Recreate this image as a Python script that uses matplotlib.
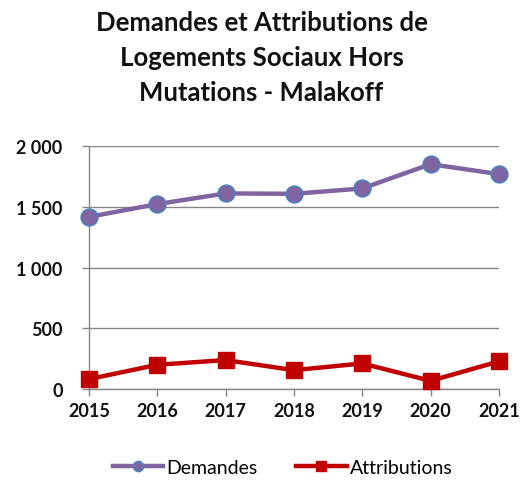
import matplotlib
matplotlib.use('Agg')
import matplotlib.pyplot as plt
from matplotlib.ticker import FuncFormatter

years = ['2015', '2016', '2017', '2018', '2019', '2020', '2021']
demandes = [1418, 1523, 1611, 1608, 1652, 1852, 1770]
attributions = [82, 200, 239, 156, 211, 68, 228]

plt.rcParams['font.family'] = ['Lato', 'DejaVu Sans']

fig = plt.figure(figsize=(5.23, 4.81), dpi=100)
ax = fig.add_axes([0.170, 0.189, 0.784, 0.505])

x = list(range(len(years)))
ax.plot(x, demandes, color='#8064A2', lw=3.2, marker='o', ms=12,
        mfc='#8064A2', mec='#4F81BD', mew=1.2, label='Demandes', zorder=3,
        clip_on=False)
ax.plot(x, attributions, color='#C00000', lw=3.2, marker='s', ms=12,
        mfc='#C00000', mec='#C00000', label='Attributions', zorder=3,
        clip_on=False)

ax.set_xlim(0, len(years) - 1)
ax.set_ylim(0, 2000)
ax.set_xticks(x)
ax.set_xticklabels(years)
ax.set_yticks([0, 500, 1000, 1500, 2000])
ax.yaxis.set_major_formatter(FuncFormatter(lambda v, p: f'{int(v):,}'.replace(',', ' ')))
ax.grid(axis='y', color='#868686', lw=1)
ax.set_axisbelow(True)
for s in ['top', 'right']:
    ax.spines[s].set_visible(False)
for s in ['left', 'bottom']:
    ax.spines[s].set_color('#868686')
    ax.spines[s].set_linewidth(1)
ax.tick_params(axis='both', colors='#868686', labelcolor='#111111', labelsize=13,
               length=5, direction='out', width=1)
ax.tick_params(axis='y', pad=14)
ax.tick_params(axis='x', pad=4)
for lbl in ax.get_xticklabels() + ax.get_yticklabels():
    lbl.set_fontweight('bold')

fig.text(0.5, 0.978, 'Demandes et Attributions de\nLogements Sociaux Hors\nMutations - Malakoff',
         ha='center', va='top', fontsize=18.5, fontweight='bold', linespacing=1.55,
         color='#111111')

leg = fig.legend(loc='center', bbox_to_anchor=(0.54, 0.027), ncol=2, frameon=False,
                 fontsize=14, handlelength=2.6, columnspacing=2.0, handletextpad=0.15,
                 markerscale=0.6)

fig.savefig('out.png', dpi=100)
